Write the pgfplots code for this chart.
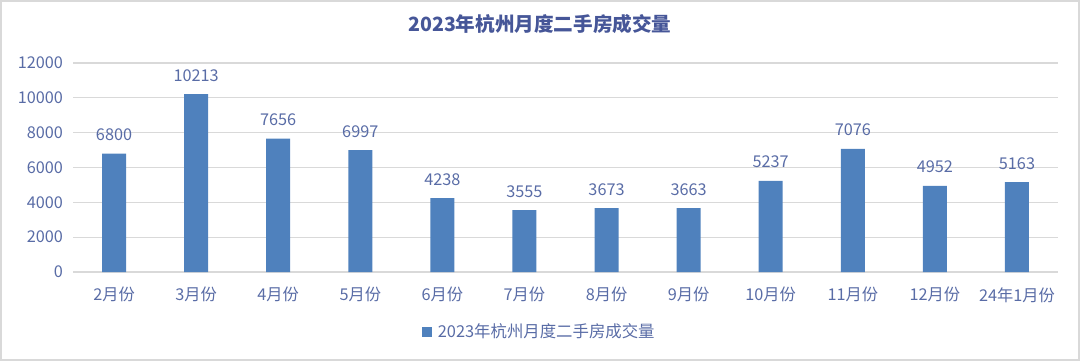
\documentclass[border=0pt]{standalone}
\usepackage{pgfplots}
\pgfplotsset{compat=1.18}
\usepackage{fontspec}
\setmainfont{Noto Sans CJK SC}
\definecolor{barblue}{RGB}{79,129,189}
\definecolor{txtblue}{RGB}{89,108,166}
\definecolor{ttlblue}{RGB}{70,86,152}
\definecolor{gridgray}{RGB}{217,217,217}
\begin{document}
\begin{tikzpicture}[x=1pt,y=1pt]
\draw[gridgray, line width=1.5pt] (0.75,0.75) rectangle (809.25,270);
\begin{axis}[
  at={(54.75pt,66.75pt)}, anchor=south west,
  scale only axis, width=738.75pt, height=156.75pt,
  xmin=-0.5, xmax=11.5, ymin=0, ymax=12000,
  ytick={0,2000,...,12000},
  xtick={0,...,11},
  xticklabels={2月份,3月份,4月份,5月份,6月份,7月份,8月份,9月份,10月份,11月份,12月份,24年1月份},
  ymajorgrids, grid style={gridgray, line width=0.8pt},
  axis y line*=left, axis x line*=bottom,
  y axis line style={draw=none},
  x axis line style={gridgray, line width=0.8pt, -},
  major tick length=0pt,
  tick label style={font=\fontsize{12.2}{14}\selectfont, text=txtblue},
  /pgf/number format/assume math mode=true,
  /pgf/number format/1000 sep={},
  scaled y ticks=false,
  yticklabel style={xshift=-4pt},
  xticklabel style={yshift=-8pt},
  ybar, bar width=18pt,
  nodes near coords,
  nodes near coords style={font=\fontsize{12.2}{14}\selectfont, text=txtblue, yshift=6pt},
  legend style={at={(0.474,-0.287)}, anchor=center, draw=none, fill=none,
     font=\fontsize{12.3}{14}\selectfont, text=txtblue},
  legend image code/.code={\fill[barblue] (0pt,-3.75pt) rectangle (7.5pt,3.75pt);},
  title={2023年杭州月度二手房成交量},
  title style={at={(0.474,1.15)}, anchor=center, font=\fontsize{14.7}{18}\selectfont\bfseries, text=ttlblue},
  clip=false,
]
\addplot[fill=barblue, draw=none] coordinates {
(0,6800) (1,10213) (2,7656) (3,6997) (4,4238) (5,3555)
(6,3673) (7,3663) (8,5237) (9,7076) (10,4952) (11,5163)};
\addlegendentry{\hspace{2pt}2023年杭州月度二手房成交量}
\end{axis}
\end{tikzpicture}
\end{document}
